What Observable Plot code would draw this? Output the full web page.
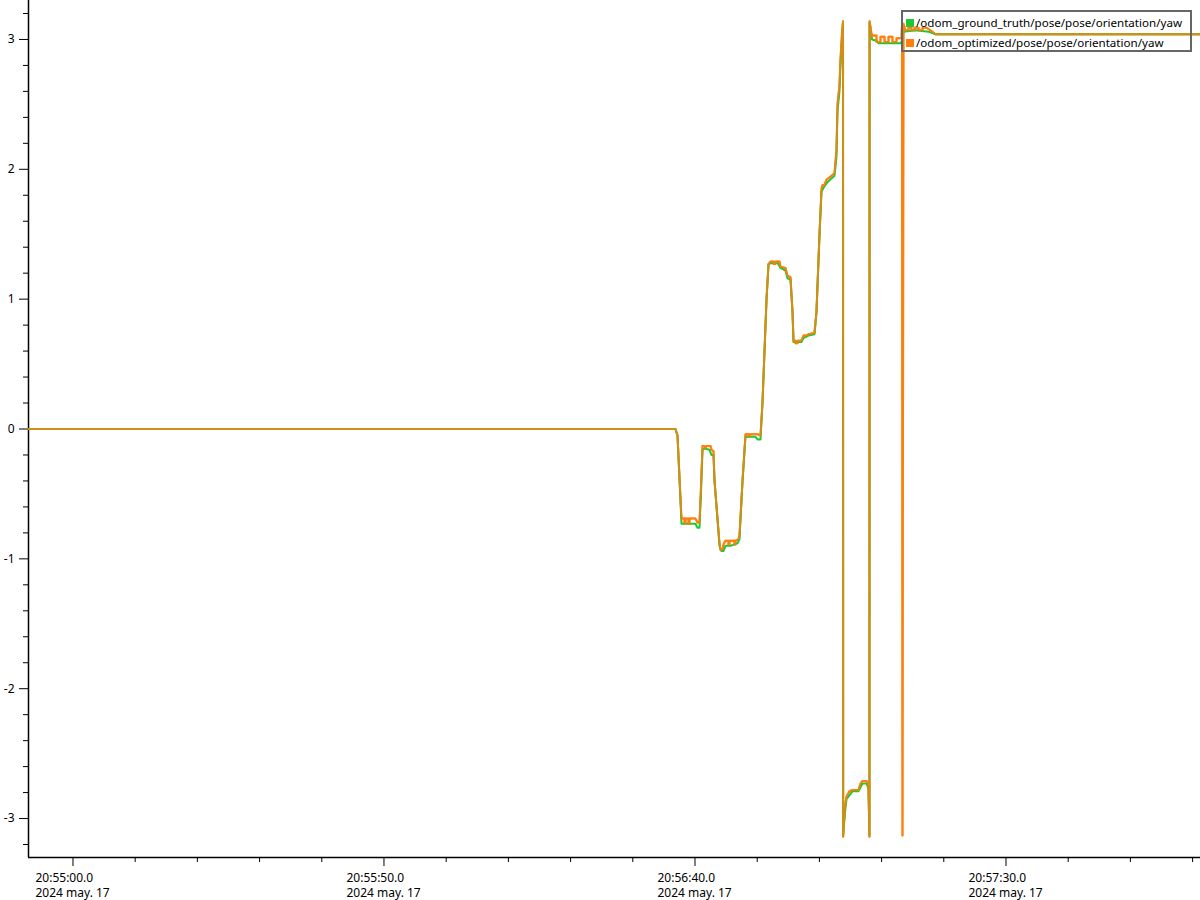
<!DOCTYPE html>
<html>
<head>
<meta charset="utf-8">
<script src="https://cdn.jsdelivr.net/npm/d3@7"></script>
<script src="https://cdn.jsdelivr.net/npm/@observablehq/plot@0.6"></script>
<style>
  html, body { margin: 0; padding: 0; background: #fff; }
  #wrap { position: relative; width: 1200px; height: 900px; overflow: hidden; }
  #legend { position: absolute; left: 901px; top: 10px; width: 287px; height: 38px;
    border: 2px solid #666; font-family: "Noto Sans", sans-serif; font-size: 11.6px; color: #000; }
  .item { position: absolute; left: 3px; height: 16px; line-height: 16px; white-space: nowrap; }
  .sw { display: inline-block; width: 8px; height: 8px; margin-right: 2px; vertical-align: 0px; }
</style>
</head>
<body>
<div id="wrap"></div>
<script>
// ---- data (seconds after 20:55:00, 2024-05-17; yaw in rad) ----
const startTime = Date.UTC(2024, 4, 17, 20, 55, 0);
const xDomainSec = [-7.15, 181.27];
const yDomain = [-3.3, 3.3];
const yMajorTicks = [-3, -2, -1, 0, 1, 2, 3];
const xMajorTicksSec = [0, 50, 100, 150];
const seriesNames = ["/odom_ground_truth/pose/pose/orientation/yaw", "/odom_optimized/pose/pose/orientation/yaw"];
const seriesColors = ["#1ec832", "#ff7f0e"];

const gtTime = [
  -7.15, 96.86, 97.19, 97.83, 100.08, 100.40, 100.72, 100.96, 101.21, 101.53,
  102.33, 102.65, 102.97, 103.14, 103.94, 104.26, 104.58, 104.90, 105.71, 106.83,
  107.15, 107.64, 108.12, 109.73, 110.05, 110.53, 110.85, 111.50, 111.82, 112.46,
  113.26, 113.75, 114.55, 114.87, 115.35, 115.68, 115.84, 117.12, 117.44, 118.25,
  119.21, 119.53, 120.02, 120.34, 120.82, 121.30, 121.95, 122.43, 122.75, 122.91,
  123.23, 123.39, 123.63, 123.80, 123.82, 124.12, 124.36, 124.84, 125.32, 126.29,
  126.61, 126.93, 127.57, 127.89, 128.05, 128.07, 128.46, 129.18, 129.50, 133.04,
  133.36, 133.52, 135.45, 137.54, 138.67, 181.27
];
const gtYaw = [
  0, 0, -0.05, -0.73, -0.73, -0.76, -0.76, -0.5, -0.16, -0.15,
  -0.16, -0.2, -0.2, -0.4, -0.9, -0.94, -0.94, -0.9, -0.9, -0.88,
  -0.85, -0.4, -0.06, -0.06, -0.08, -0.08, 0.2, 1.0, 1.27, 1.28,
  1.28, 1.24, 1.22, 1.16, 1.15, 0.9, 0.67, 0.67, 0.7, 0.72,
  0.73, 0.9, 1.5, 1.83, 1.87, 1.9, 1.93, 1.95, 2.1, 2.45,
  2.6, 2.8, 3.0, 3.13, -3.13, -2.95, -2.85, -2.82, -2.79, -2.79,
  -2.76, -2.73, -2.73, -2.77, -3.13, 3.13, 3.0, 2.99, 2.97, 2.97,
  3.0, 3.06, 3.07, 3.06, 3.04, 3.04
];

const optTime = [
  -7.15, 96.86, 97.19, 97.83, 98.31, 98.31, 98.47, 98.47, 98.95, 98.95,
  99.12, 99.12, 100.08, 100.40, 100.72, 100.96, 101.21, 101.53, 101.69, 101.85,
  102.49, 102.65, 102.97, 103.14, 103.94, 104.10, 104.42, 104.58, 104.90, 105.39,
  105.39, 105.55, 105.55, 106.35, 106.35, 106.51, 106.51, 106.99, 107.15, 107.64,
  108.12, 108.60, 108.60, 108.76, 108.76, 110.05, 110.53, 110.85, 111.50, 111.82,
  112.14, 112.62, 112.62, 112.94, 112.94, 113.59, 113.75, 114.55, 114.87, 115.35,
  115.68, 115.84, 116.16, 116.16, 116.48, 116.48, 117.12, 117.44, 117.93, 118.25,
  119.21, 119.53, 120.02, 120.34, 120.50, 120.82, 121.14, 121.95, 122.43, 122.75,
  122.91, 123.23, 123.39, 123.63, 123.80, 123.82, 124.12, 124.36, 124.84, 125.32,
  126.29, 126.61, 126.93, 127.57, 127.89, 128.05, 128.07, 128.46, 128.54, 129.18,
  129.18, 129.82, 129.82, 130.47, 130.47, 131.11, 131.11, 131.75, 131.75, 132.40,
  132.40, 133.20, 133.28, 133.36, 133.52, 133.84, 134.32, 134.32, 134.81, 134.81,
  135.29, 135.29, 135.93, 135.93, 136.58, 136.58, 137.22, 137.86, 138.67, 181.27
];
const optYaw = [
  0, 0, -0.05, -0.69, -0.69, -0.73, -0.73, -0.69, -0.69, -0.73,
  -0.73, -0.69, -0.69, -0.72, -0.72, -0.45, -0.13, -0.13, -0.15, -0.13,
  -0.13, -0.16, -0.17, -0.4, -0.88, -0.93, -0.93, -0.89, -0.86, -0.86,
  -0.89, -0.89, -0.86, -0.86, -0.89, -0.89, -0.86, -0.85, -0.82, -0.4,
  -0.04, -0.04, -0.06, -0.06, -0.04, -0.04, -0.05, 0.2, 1.0, 1.27,
  1.29, 1.29, 1.27, 1.27, 1.29, 1.29, 1.25, 1.24, 1.18, 1.17,
  0.9, 0.68, 0.68, 0.66, 0.66, 0.68, 0.68, 0.72, 0.72, 0.73,
  0.74, 0.9, 1.5, 1.85, 1.88, 1.88, 1.92, 1.95, 1.97, 2.15,
  2.5, 2.65, 2.85, 3.05, 3.14, -3.14, -2.9, -2.83, -2.79, -2.78,
  -2.78, -2.73, -2.71, -2.71, -2.75, -3.14, 3.14, 3.02, 3.03, 3.03,
  2.98, 2.98, 3.02, 3.02, 2.98, 2.98, 3.02, 3.02, 2.98, 2.98,
  3.01, 3.01, 3.12, -3.13, 3.12, 3.07, 3.07, 3.09, 3.09, 3.07,
  3.07, 3.09, 3.09, 3.07, 3.07, 3.09, 3.09, 3.07, 3.04, 3.04
];

// ---- build ----
const toDate = s => new Date(startTime + s * 1000);
const zip = (ts, vs) => ts.slice(0, Math.min(ts.length, vs.length)).map((t, i) => ({t: toDate(t), v: vs[i]}));
const gt = zip(gtTime, gtYaw);
const opt = zip(optTime, optYaw);

const xDomain = xDomainSec.map(toDate);
const xMajor = xMajorTicksSec.map(toDate);
const xMinor = d3.range(-10, 190, 10).map(toDate).filter(d => d >= xDomain[0] && d <= xDomain[1] && !xMajor.some(m => +m === +d));
const yMinor = d3.range(-16, 17).map(i => i * 0.2).filter(v => Math.abs(v - Math.round(v)) > 1e-6 && v >= yDomain[0] && v <= yDomain[1]);

const fmtTime = d3.utcFormat("%H:%M:%S");
const timeLabel = d => `${fmtTime(d)}.0`;
const dateLabel = d => `${d.getUTCFullYear()} may. ${d.getUTCDate()}`;

const chart = Plot.plot({
  width: 1200,
  height: 900,
  marginLeft: 28,
  marginRight: 0,
  marginTop: 0,
  marginBottom: 43,
  style: {fontFamily: "Noto Sans, sans-serif", fontSize: "12px", color: "#000", background: "#fff"},
  x: {type: "utc", domain: xDomain},
  y: {domain: yDomain},
  marks: [
    Plot.axisY({ticks: yMajorTicks, tickSize: 9, tickPadding: 5, tickFormat: d => String(d), label: null, fontSize: 12}),
    Plot.axisY({ticks: yMinor, tickSize: 5, tickFormat: () => "", label: null}),
    Plot.axisX({ticks: xMajor, tickSize: 9, tickFormat: () => "", label: null}),
    Plot.axisX({ticks: xMajor, tickSize: 0, tickPadding: 16, tickFormat: timeLabel, textAnchor: "start", dx: -37.5, label: null, fontSize: 12}),
    Plot.axisX({ticks: xMajor, tickSize: 0, tickPadding: 31, tickFormat: dateLabel, textAnchor: "start", dx: -37.5, label: null, fontSize: 12}),
    Plot.axisX({ticks: xMinor, tickSize: 5, tickFormat: () => "", label: null}),
    Plot.ruleX([xDomain[0]], {stroke: "#000", strokeWidth: 1.5}),
    Plot.ruleY([yDomain[0]], {stroke: "#000", strokeWidth: 1.5}),
    // orange base layer, green, then translucent orange so overlaps blend
    Plot.line(opt, {x: "t", y: "v", stroke: seriesColors[1], strokeWidth: 2, curve: "linear"}),
    Plot.line(gt, {x: "t", y: "v", stroke: seriesColors[0], strokeWidth: 2, curve: "linear"}),
    Plot.line(opt, {x: "t", y: "v", stroke: seriesColors[1], strokeWidth: 2, strokeOpacity: 0.8, curve: "linear"})
  ]
});

const wrap = document.getElementById("wrap");
wrap.appendChild(chart);

const legend = document.createElement("div");
legend.id = "legend";
seriesNames.forEach((name, i) => {
  const it = document.createElement("div");
  it.className = "item";
  it.style.top = (3 + i * 20) + "px";
  const sw = document.createElement("span");
  sw.className = "sw";
  sw.style.background = seriesColors[i];
  it.appendChild(sw);
  it.appendChild(document.createTextNode(name));
  legend.appendChild(it);
});
wrap.appendChild(legend);
</script>
</body>
</html>
